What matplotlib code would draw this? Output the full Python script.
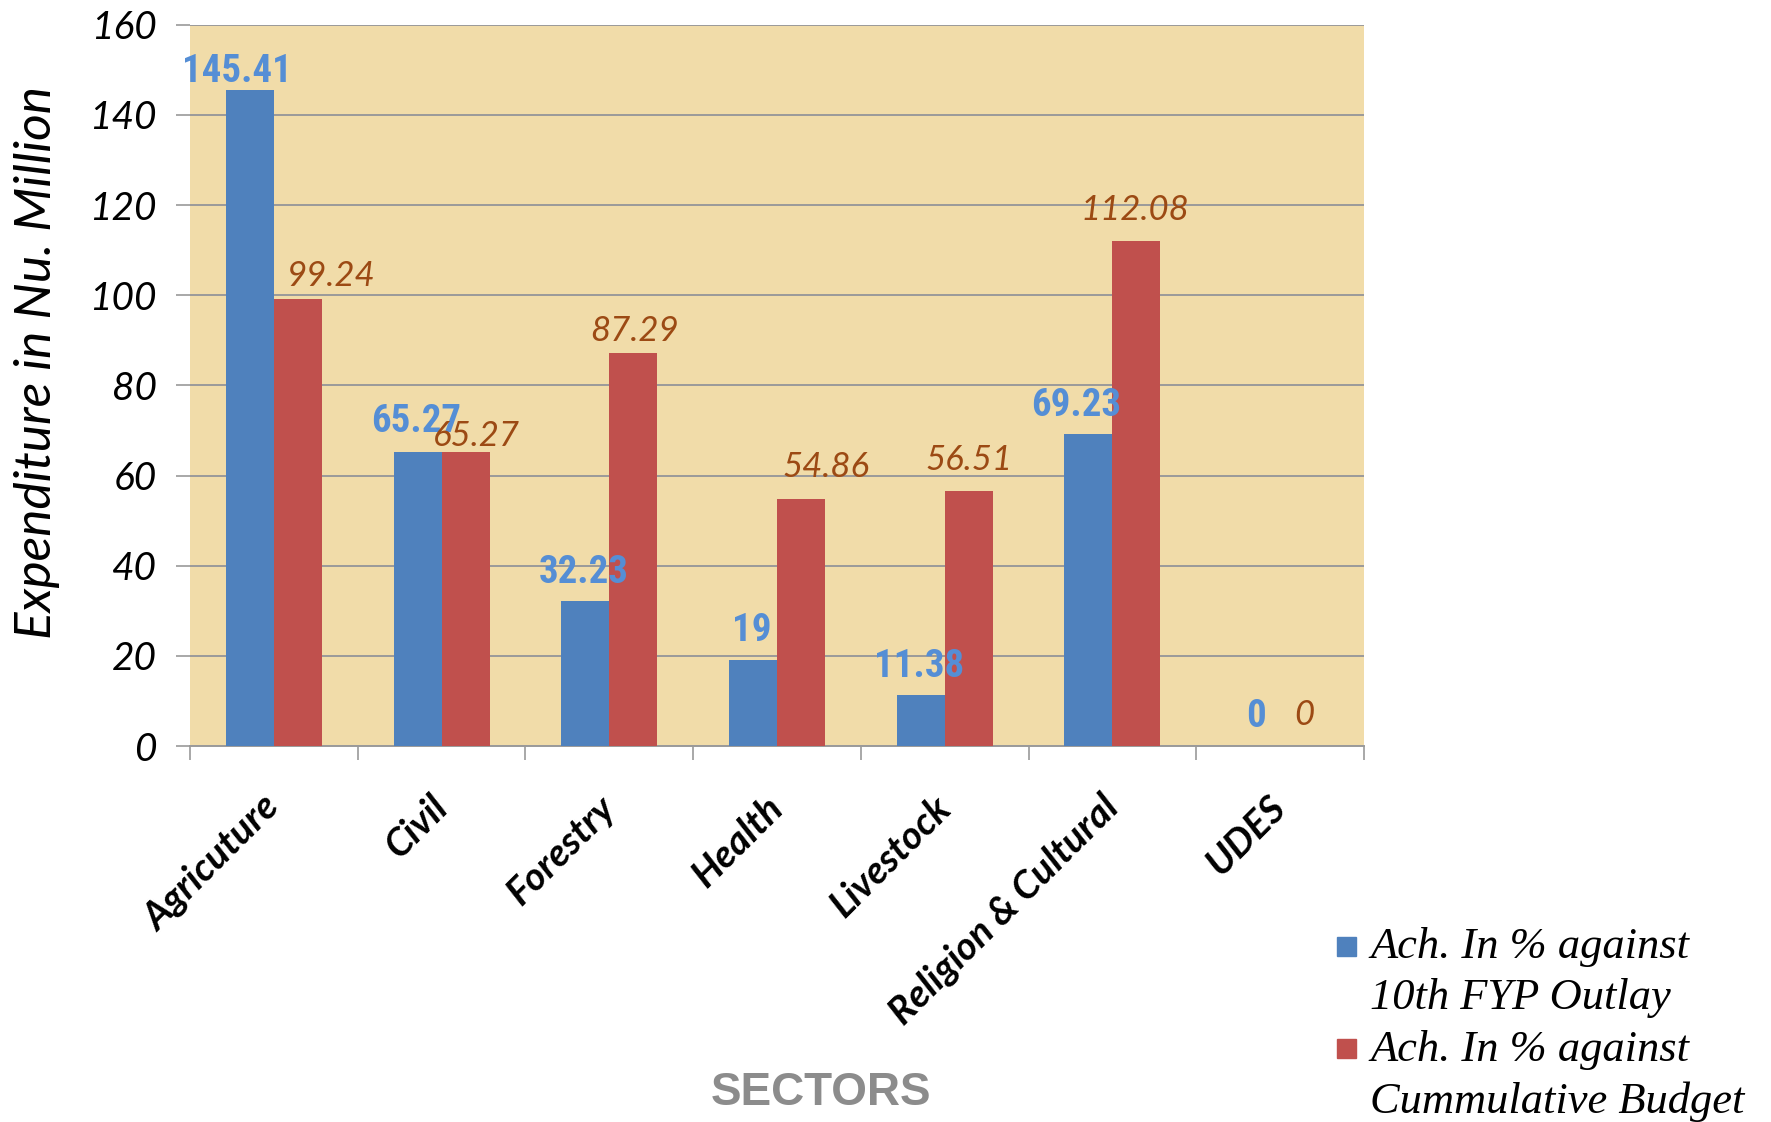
import matplotlib.pyplot as plt
from matplotlib.patches import Rectangle

# sector-wise achievement
sectors = ['Agricuture', 'Civil', 'Forestry', 'Health', 'Livestock',
           'Religion & Cultural', 'UDES']
outlay = [145.41, 65.27, 32.23, 19, 11.38, 69.23, 0]
budget = [99.24, 65.27, 87.29, 54.86, 56.51, 112.08, 0]
series = ['Ach. In % against\n10th FYP Outlay',
          'Ach. In % against\nCummulative Budget']
yticks = [0, 20, 40, 60, 80, 100, 120, 140, 160]

blue = '#4F81BD'
red = '#C0504D'
sans = ['Lato', 'DejaVu Sans']

# label nudges (points) to mimic the hand placed labels
blue_dx = [-9, -1, -1, -1, -1, -9, 0]
blue_dy = [6, 14, 13, 14, 13, 13, 14]
red_dx = [24, 8, 1, 18, 0, -1, 0]
red_dy = [9, 4, 8, 16, 15, 15, 15]

fig = plt.figure(figsize=(17.71, 11.22), dpi=100)
ax = fig.add_axes([0.1073, 0.335, 0.6629, 0.643])
ax.set_facecolor('#F1DCA9')

w = 0.286
x = list(range(len(sectors)))
ax.bar([i - w / 2 for i in x], outlay, w, color=blue, zorder=3)
ax.bar([i + w / 2 for i in x], budget, w, color=red, zorder=3)

for i in x:
    ax.annotate(f'{outlay[i]:g}', (i - w / 2, outlay[i]),
                xytext=(blue_dx[i], blue_dy[i]), textcoords='offset points',
                ha='center', va='baseline', fontsize=28, fontweight='bold',
                family=['Roboto Condensed', 'Open Sans Condensed',
                        'DejaVu Sans'],
                fontstretch='condensed', color='#558ED5', zorder=4)
    ax.annotate(f'{budget[i]:g}', (i + w / 2, budget[i]),
                xytext=(red_dx[i], red_dy[i]), textcoords='offset points',
                ha='center', va='baseline', fontsize=25, style='italic',
                family=sans, color='#9C4A14', zorder=4)

ax.set_xlim(-0.5, len(sectors) - 0.5)
ax.set_ylim(0, 160)
ax.set_yticks(yticks)
ax.set_yticklabels([str(t) for t in yticks], fontsize=28, style='italic',
                   family=sans)
ax.yaxis.grid(True, color='#9A9A9A', lw=1.4)
ax.set_axisbelow(True)
ax.tick_params(axis='y', length=10, width=1.2, color='#9A9A9A', pad=14)

ax.set_xticks(x)
ax.set_xticklabels(sectors, rotation=45, ha='right', va='center',
                   rotation_mode='anchor', fontsize=28, fontweight='bold',
                   style='italic', family=sans)
ax.set_xticks([i - 0.5 for i in range(len(sectors) + 1)], minor=True)
ax.tick_params(axis='x', which='major', length=0, pad=40)
ax.tick_params(axis='x', which='minor', length=10, width=1.2, color='#9A9A9A')

for s in ['top', 'right', 'left']:
    ax.spines[s].set_visible(False)
ax.spines['bottom'].set_color('#9A9A9A')
ax.spines['bottom'].set_linewidth(1.4)

fig.text(0.021, 0.677, 'Expenditure in Nu. Million', rotation=90,
         ha='center', va='center', fontsize=37, style='italic', family=sans)
fig.text(0.4636, 0.026, 'SECTORS', ha='center', va='center', fontsize=33,
         fontweight='bold', family='Liberation Sans', color='#8C8C8C')

# legend drawn by hand so the square sits on the first line
for name, col, ytop, ysq in zip(series, [blue, red], [0.1734, 0.0816],
                                [0.148, 0.057]):
    fig.patches.append(Rectangle((0.755, ysq), 0.0107, 0.0169, color=col,
                                 transform=fig.transFigure, figure=fig))
    fig.text(0.7736, ytop, name, ha='left', va='top', fontsize=32,
             style='italic', family='Liberation Serif', linespacing=1.35)

fig.savefig('out.png', dpi=100)
